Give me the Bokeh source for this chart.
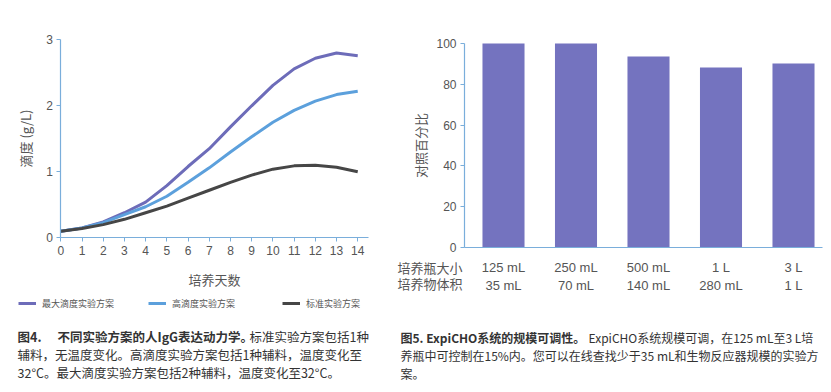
from bokeh.plotting import figure
from bokeh.models import Label, Legend, LegendItem, FixedTicker, Range1d
from bokeh.layouts import row
from bokeh.embed import file_html
from bokeh.resources import INLINE

# ---- data: left chart (titer kinetics) ----
days = [0, 1, 2, 3, 4, 5, 6, 7, 8, 9, 10, 11, 12, 13, 14]
max_titer = [0.10, 0.15, 0.24, 0.38, 0.54, 0.79, 1.08, 1.35, 1.68, 2.00, 2.31, 2.56, 2.72, 2.80, 2.76]
high_titer = [0.10, 0.15, 0.23, 0.35, 0.47, 0.63, 0.84, 1.06, 1.30, 1.53, 1.75, 1.93, 2.07, 2.17, 2.22]
standard = [0.10, 0.14, 0.20, 0.28, 0.38, 0.48, 0.60, 0.72, 0.84, 0.95, 1.04, 1.09, 1.10, 1.07, 1.00]
series_names = ["最大滴度实验方案", "高滴度实验方案", "标准实验方案"]
left_yticks = [0, 1, 2, 3]

# ---- data: right chart (scalability) ----
flask_sizes = ["125 mL", "250 mL", "500 mL", "1 L", "3 L"]
culture_volumes = ["35 mL", "70 mL", "140 mL", "280 mL", "1 L"]
percent_of_control = [99.8, 99.8, 93.5, 88.1, 90.1]
right_yticks = [0, 20, 40, 60, 80, 100]

CJK = "Noto Sans CJK SC"
LAT = "Liberation Sans"
AXIS_C = "#7aaedb"
TICK_C = "#555555"
TEXT_C = "#333333"
PURPLE = "#6d6cb9"
BLUE = "#5ca0dc"
DARK = "#464646"
BAR_C = "#7473bf"

H = 388  # canvas height (page px)


def style_axes(p):
    for ax in p.axis:
        ax.axis_line_color = AXIS_C
        ax.axis_line_width = 1.2
        ax.major_tick_line_color = AXIS_C
        ax.major_tick_in = 0
        ax.major_tick_out = 4
        ax.minor_tick_line_color = None
        ax.major_label_text_color = TICK_C
        ax.major_label_text_font = LAT
        ax.major_label_text_font_size = "12px"
        ax.major_label_standoff = 4
        ax.axis_label_text_font = CJK
        ax.axis_label_text_font_style = "normal"
        ax.axis_label_text_color = TICK_C
        ax.axis_label_text_font_size = "13px"
    p.xgrid.grid_line_color = None
    p.ygrid.grid_line_color = None
    p.outline_line_color = None


def make_conv(canvas_x0, px_x0, x_per_unit, px_y0, y_per_unit, width):
    """page px -> data coords; frame spans the whole canvas."""
    def conv(px, py):
        return (px - px_x0) / x_per_unit, (px_y0 - py) / y_per_unit
    xs = (canvas_x0 - px_x0) / x_per_unit
    xe = (canvas_x0 + width - px_x0) / x_per_unit
    ys = (px_y0 - H) / y_per_unit
    ye = px_y0 / y_per_unit
    return conv, (xs, xe), (ys, ye)


def add_text(p, conv, px, py, txt, bold=False, size="12.5px", color=TEXT_C):
    x, y = conv(px, py)
    p.add_layout(Label(x=x, y=y, text=txt, text_font=CJK, text_font_size=size,
                       text_color=color, text_align="left", text_baseline="middle",
                       text_font_style="bold" if bold else "normal"))


# ================= LEFT FIGURE =================
W1 = 392
# day 0 at page x 60.3, 21.21 px/day ; value 0 at page y 237.3, 66 px/unit
conv1, xr1, yr1 = make_conv(0, 60.3, 21.21, 237.3, 66.0, W1)
p1 = figure(width=W1, height=H, min_border=0, x_range=Range1d(*xr1), y_range=Range1d(*yr1),
            output_backend="svg", toolbar_location=None, tools="")
r_max = p1.line(days, max_titer, line_color=PURPLE, line_width=3)
r_high = p1.line(days, high_titer, line_color=BLUE, line_width=3)
r_std = p1.line(days, standard, line_color=DARK, line_width=3)
style_axes(p1)
p1.xaxis.fixed_location = 0
p1.yaxis.fixed_location = 0
p1.xaxis.bounds = (0, 14.5)
p1.yaxis.bounds = (0, 3)
p1.xaxis.ticker = FixedTicker(ticks=days)
p1.yaxis.ticker = FixedTicker(ticks=left_yticks)
p1.xaxis.axis_label = "培养天数"
p1.yaxis.axis_label = "滴度 (g/L)"
p1.xaxis.axis_label_standoff = 12
p1.yaxis.axis_label_standoff = 8

for r, name, px in zip([r_max, r_high, r_std], series_names, [18, 148, 282]):
    lg = Legend(items=[LegendItem(label=name, renderers=[r])],
                location=(px, H - 310), orientation="horizontal",
                glyph_width=18, glyph_height=14, label_height=14,
                label_standoff=6, label_text_font=CJK, label_text_font_size="9px",
                label_text_color=TICK_C, padding=0, margin=0, spacing=0,
                border_line_color=None, background_fill_alpha=0)
    p1.add_layout(lg)

add_text(p1, conv1, 17, 336, "图4.", bold=True)
add_text(p1, conv1, 57, 336, "不同实验方案的人IgG表达动力学。", bold=True)
add_text(p1, conv1, 249, 336, "标准实验方案包括1种")
add_text(p1, conv1, 17, 354, "辅料，无温度变化。高滴度实验方案包括1种辅料，温度变化至")
add_text(p1, conv1, 17, 372, "32°C。最大滴度实验方案包括2种辅料，温度变化至32°C。")

# ================= RIGHT FIGURE =================
W2 = 436
# category 0 centred at page x 503, 72.5 px/category ; 0 % at page y 247.3, 2.046 px/%
conv2, xr2, yr2 = make_conv(W1, 503.0, 72.5, 247.3, 2.046, W2)
x_axis_start = conv2(464, 0)[0]
x_axis_end = conv2(822, 0)[0]
p2 = figure(width=W2, height=H, min_border=0, x_range=Range1d(*xr2), y_range=Range1d(*yr2),
            output_backend="svg", toolbar_location=None, tools="")
xpos = list(range(len(flask_sizes)))
p2.vbar(x=xpos, top=percent_of_control, width=0.58, fill_color=BAR_C, line_color=None)
style_axes(p2)
p2.xaxis.fixed_location = 0
p2.yaxis.fixed_location = x_axis_start
p2.xaxis.bounds = (x_axis_start, x_axis_end)
p2.yaxis.bounds = (0, 100)
p2.yaxis.ticker = FixedTicker(ticks=right_yticks)
p2.yaxis.axis_label = "对照百分比"
p2.yaxis.axis_label_standoff = 3
p2.xaxis.ticker = FixedTicker(ticks=xpos)
p2.xaxis.major_tick_out = 0
p2.xaxis.major_label_standoff = 12
p2.xaxis.major_label_text_font_size = "13px"
p2.xaxis.major_label_overrides = {i: f"{a}\n{b}" for i, (a, b) in enumerate(zip(flask_sizes, culture_volumes))}

add_text(p2, conv2, 397, 267, "培养瓶大小", size="13px", color=TICK_C)
add_text(p2, conv2, 397, 283, "培养物体积", size="13px", color=TICK_C)

add_text(p2, conv2, 400, 337, "图5. ExpiCHO系统的规模可调性。", bold=True, size="12px")
add_text(p2, conv2, 588, 337, "ExpiCHO系统规模可调，在125 mL至3 L培", size="12px")
add_text(p2, conv2, 400, 355, "养瓶中可控制在15%内。您可以在线查找少于35 mL和生物反应器规模的实验方", size="12px")
add_text(p2, conv2, 400, 373, "案。", size="12px")

layout = row(p1, p2, spacing=0)
open("out.html", "w").write(file_html(layout, INLINE))
